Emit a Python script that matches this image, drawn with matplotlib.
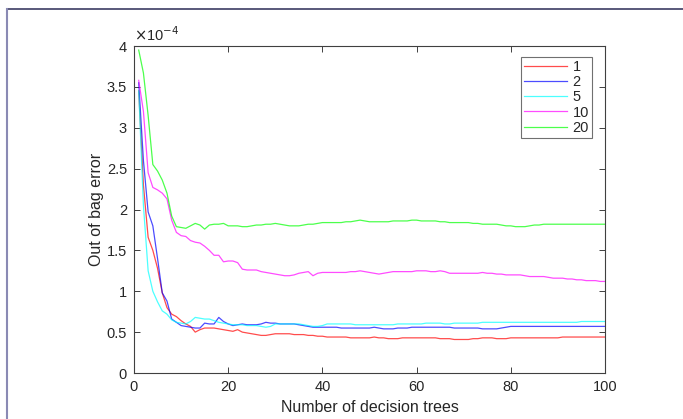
import numpy as np
import matplotlib
matplotlib.use("Agg")
import matplotlib.pyplot as plt
from matplotlib.lines import Line2D
from matplotlib.ticker import FuncFormatter

plt.rcParams['font.family'] = ['Liberation Sans', 'DejaVu Sans']

# out-of-bag error (in units of 1e-4) vs number of trees, one series per leaf size
n_trees = np.arange(1, 101)
leaf_sizes = ['1', '2', '5', '10', '20']

oob_leaf1 = [3.45, 2.30, 1.66, 1.50, 1.28, 0.98, 0.80, 0.72, 0.69, 0.64,
             0.60, 0.57, 0.50, 0.53, 0.55, 0.55, 0.55, 0.54, 0.53, 0.52,
             0.51, 0.53, 0.50, 0.49, 0.48, 0.47, 0.46, 0.46, 0.47, 0.48,
             0.48, 0.48, 0.48, 0.47, 0.47, 0.47, 0.46, 0.46, 0.45, 0.45,
             0.44, 0.44, 0.44, 0.44, 0.44, 0.43, 0.43, 0.43, 0.43, 0.43,
             0.44, 0.43, 0.43, 0.42, 0.42, 0.42, 0.43, 0.43, 0.43, 0.43,
             0.43, 0.43, 0.43, 0.43, 0.42, 0.42, 0.42, 0.41, 0.41, 0.41,
             0.41, 0.42, 0.42, 0.43, 0.43, 0.43, 0.42, 0.42, 0.42, 0.43,
             0.43, 0.43, 0.43, 0.43, 0.43, 0.43, 0.43, 0.43, 0.43, 0.43,
             0.44, 0.44, 0.44, 0.44, 0.44, 0.44, 0.44, 0.44, 0.44, 0.44]

oob_leaf2 = [3.55, 2.60, 1.97, 1.80, 1.40, 0.98, 0.88, 0.66, 0.62, 0.58,
             0.57, 0.56, 0.55, 0.55, 0.61, 0.60, 0.60, 0.68, 0.63, 0.60,
             0.58, 0.59, 0.60, 0.59, 0.59, 0.59, 0.60, 0.62, 0.61, 0.61,
             0.60, 0.60, 0.60, 0.60, 0.59, 0.58, 0.57, 0.56, 0.56, 0.56,
             0.56, 0.56, 0.56, 0.55, 0.55, 0.55, 0.55, 0.55, 0.55, 0.55,
             0.56, 0.55, 0.54, 0.54, 0.54, 0.55, 0.55, 0.55, 0.56, 0.56,
             0.56, 0.56, 0.56, 0.56, 0.56, 0.56, 0.56, 0.55, 0.55, 0.55,
             0.55, 0.55, 0.55, 0.54, 0.54, 0.54, 0.54, 0.55, 0.56, 0.57,
             0.57, 0.57, 0.57, 0.57, 0.57, 0.57, 0.57, 0.57, 0.57, 0.57,
             0.57, 0.57, 0.57, 0.57, 0.57, 0.57, 0.57, 0.57, 0.57, 0.57]

oob_leaf5 = [3.45, 2.05, 1.25, 1.00, 0.87, 0.76, 0.72, 0.65, 0.62, 0.61,
             0.60, 0.63, 0.68, 0.67, 0.66, 0.66, 0.64, 0.62, 0.61, 0.60,
             0.59, 0.59, 0.59, 0.58, 0.58, 0.58, 0.57, 0.56, 0.57, 0.60,
             0.60, 0.60, 0.60, 0.60, 0.60, 0.59, 0.58, 0.57, 0.57, 0.58,
             0.60, 0.60, 0.60, 0.60, 0.60, 0.60, 0.59, 0.59, 0.59, 0.59,
             0.59, 0.59, 0.59, 0.59, 0.59, 0.60, 0.60, 0.60, 0.60, 0.60,
             0.60, 0.61, 0.61, 0.61, 0.61, 0.60, 0.60, 0.61, 0.61, 0.61,
             0.61, 0.61, 0.61, 0.62, 0.62, 0.62, 0.62, 0.62, 0.62, 0.62,
             0.62, 0.62, 0.62, 0.62, 0.62, 0.62, 0.62, 0.62, 0.62, 0.62,
             0.62, 0.62, 0.62, 0.62, 0.63, 0.63, 0.63, 0.63, 0.63, 0.63]

oob_leaf10 = [3.58, 3.20, 2.45, 2.27, 2.24, 2.20, 2.13, 1.87, 1.72, 1.68,
              1.67, 1.62, 1.60, 1.59, 1.55, 1.50, 1.44, 1.44, 1.36, 1.37,
              1.37, 1.35, 1.27, 1.26, 1.26, 1.26, 1.24, 1.23, 1.22, 1.21,
              1.20, 1.19, 1.19, 1.20, 1.22, 1.23, 1.24, 1.19, 1.22, 1.23,
              1.23, 1.23, 1.23, 1.23, 1.23, 1.24, 1.24, 1.25, 1.24, 1.23,
              1.22, 1.21, 1.22, 1.23, 1.24, 1.24, 1.24, 1.24, 1.24, 1.25,
              1.25, 1.25, 1.24, 1.24, 1.25, 1.24, 1.22, 1.22, 1.22, 1.22,
              1.22, 1.22, 1.22, 1.23, 1.22, 1.22, 1.21, 1.21, 1.20, 1.20,
              1.20, 1.20, 1.19, 1.18, 1.18, 1.18, 1.18, 1.17, 1.16, 1.16,
              1.16, 1.15, 1.15, 1.14, 1.14, 1.13, 1.13, 1.13, 1.12, 1.12]

oob_leaf20 = [3.95, 3.67, 3.15, 2.55, 2.47, 2.36, 2.20, 1.92, 1.79, 1.78,
              1.77, 1.80, 1.83, 1.81, 1.76, 1.81, 1.82, 1.82, 1.83, 1.80,
              1.80, 1.80, 1.79, 1.79, 1.80, 1.81, 1.81, 1.82, 1.82, 1.83,
              1.82, 1.81, 1.80, 1.80, 1.80, 1.81, 1.82, 1.82, 1.83, 1.84,
              1.84, 1.84, 1.84, 1.84, 1.85, 1.85, 1.86, 1.87, 1.86, 1.85,
              1.85, 1.85, 1.85, 1.85, 1.86, 1.86, 1.86, 1.86, 1.87, 1.87,
              1.86, 1.86, 1.86, 1.86, 1.85, 1.85, 1.84, 1.84, 1.84, 1.84,
              1.84, 1.83, 1.83, 1.82, 1.82, 1.82, 1.82, 1.81, 1.80, 1.80,
              1.79, 1.79, 1.79, 1.80, 1.81, 1.81, 1.82, 1.82, 1.82, 1.82,
              1.82, 1.82, 1.82, 1.82, 1.82, 1.82, 1.82, 1.82, 1.82, 1.82]

series = [oob_leaf1, oob_leaf2, oob_leaf5, oob_leaf10, oob_leaf20]
colors = ['#ff0000', '#0000ff', '#00ffff', '#ff00ff', '#00ff00']

fig = plt.figure(figsize=(6.83, 4.19), dpi=100)
ax = fig.add_axes([134 / 683, 1 - 373 / 419, 471 / 683, 327 / 419])

for vals, c, lab in zip(series, colors, leaf_sizes):
    ax.plot(n_trees, np.array(vals) * 1e-4, color=c, lw=0.9, alpha=0.7, label=lab)

ax.set_xlim(0, 100)
ax.set_ylim(0, 4e-4)
ax.set_xticks(np.arange(0, 101, 20))
ax.set_yticks(np.arange(0, 4.01e-4, 0.5e-4))
ax.yaxis.set_major_formatter(FuncFormatter(lambda v, p: f'{v / 1e-4:g}'))

txt_col = '#262626'
for s in ax.spines.values():
    s.set_color('#404040')
    s.set_linewidth(0.8)
ax.tick_params(direction='in', length=4, width=0.7, color='#404040',
               labelcolor=txt_col, labelsize=10.5, top=True, right=True)
ax.tick_params(axis='x', pad=5)
ax.tick_params(axis='y', pad=5)

ax.text(0, 1.005, r'$\times$10$^{-4}$', transform=ax.transAxes, ha='left',
        va='bottom', fontsize=10.5, color=txt_col)
ax.set_xlabel('Number of decision trees', fontsize=11.5, color=txt_col, labelpad=4)
ax.set_ylabel('Out of bag error', fontsize=11.5, color=txt_col, labelpad=2)

leg = ax.legend(loc='upper right', bbox_to_anchor=(0.972, 0.966), borderaxespad=0,
                fontsize=10.5, handlelength=2.9, handletextpad=0.4,
                labelspacing=0.08, borderpad=0.2, fancybox=False, framealpha=1)
leg.get_frame().set_edgecolor('#707070')
leg.get_frame().set_linewidth(0.8)
for t in leg.get_texts():
    t.set_color(txt_col)

# window frame around the figure
fig.add_artist(Line2D([7 / 683, 1], [1 - 9 / 419] * 2, color='#3c3c64', lw=1.2))
fig.add_artist(Line2D([7 / 683] * 2, [0, 1 - 9 / 419], color='#8a8ab4', lw=1.5))

fig.savefig('out.png', dpi=100)
